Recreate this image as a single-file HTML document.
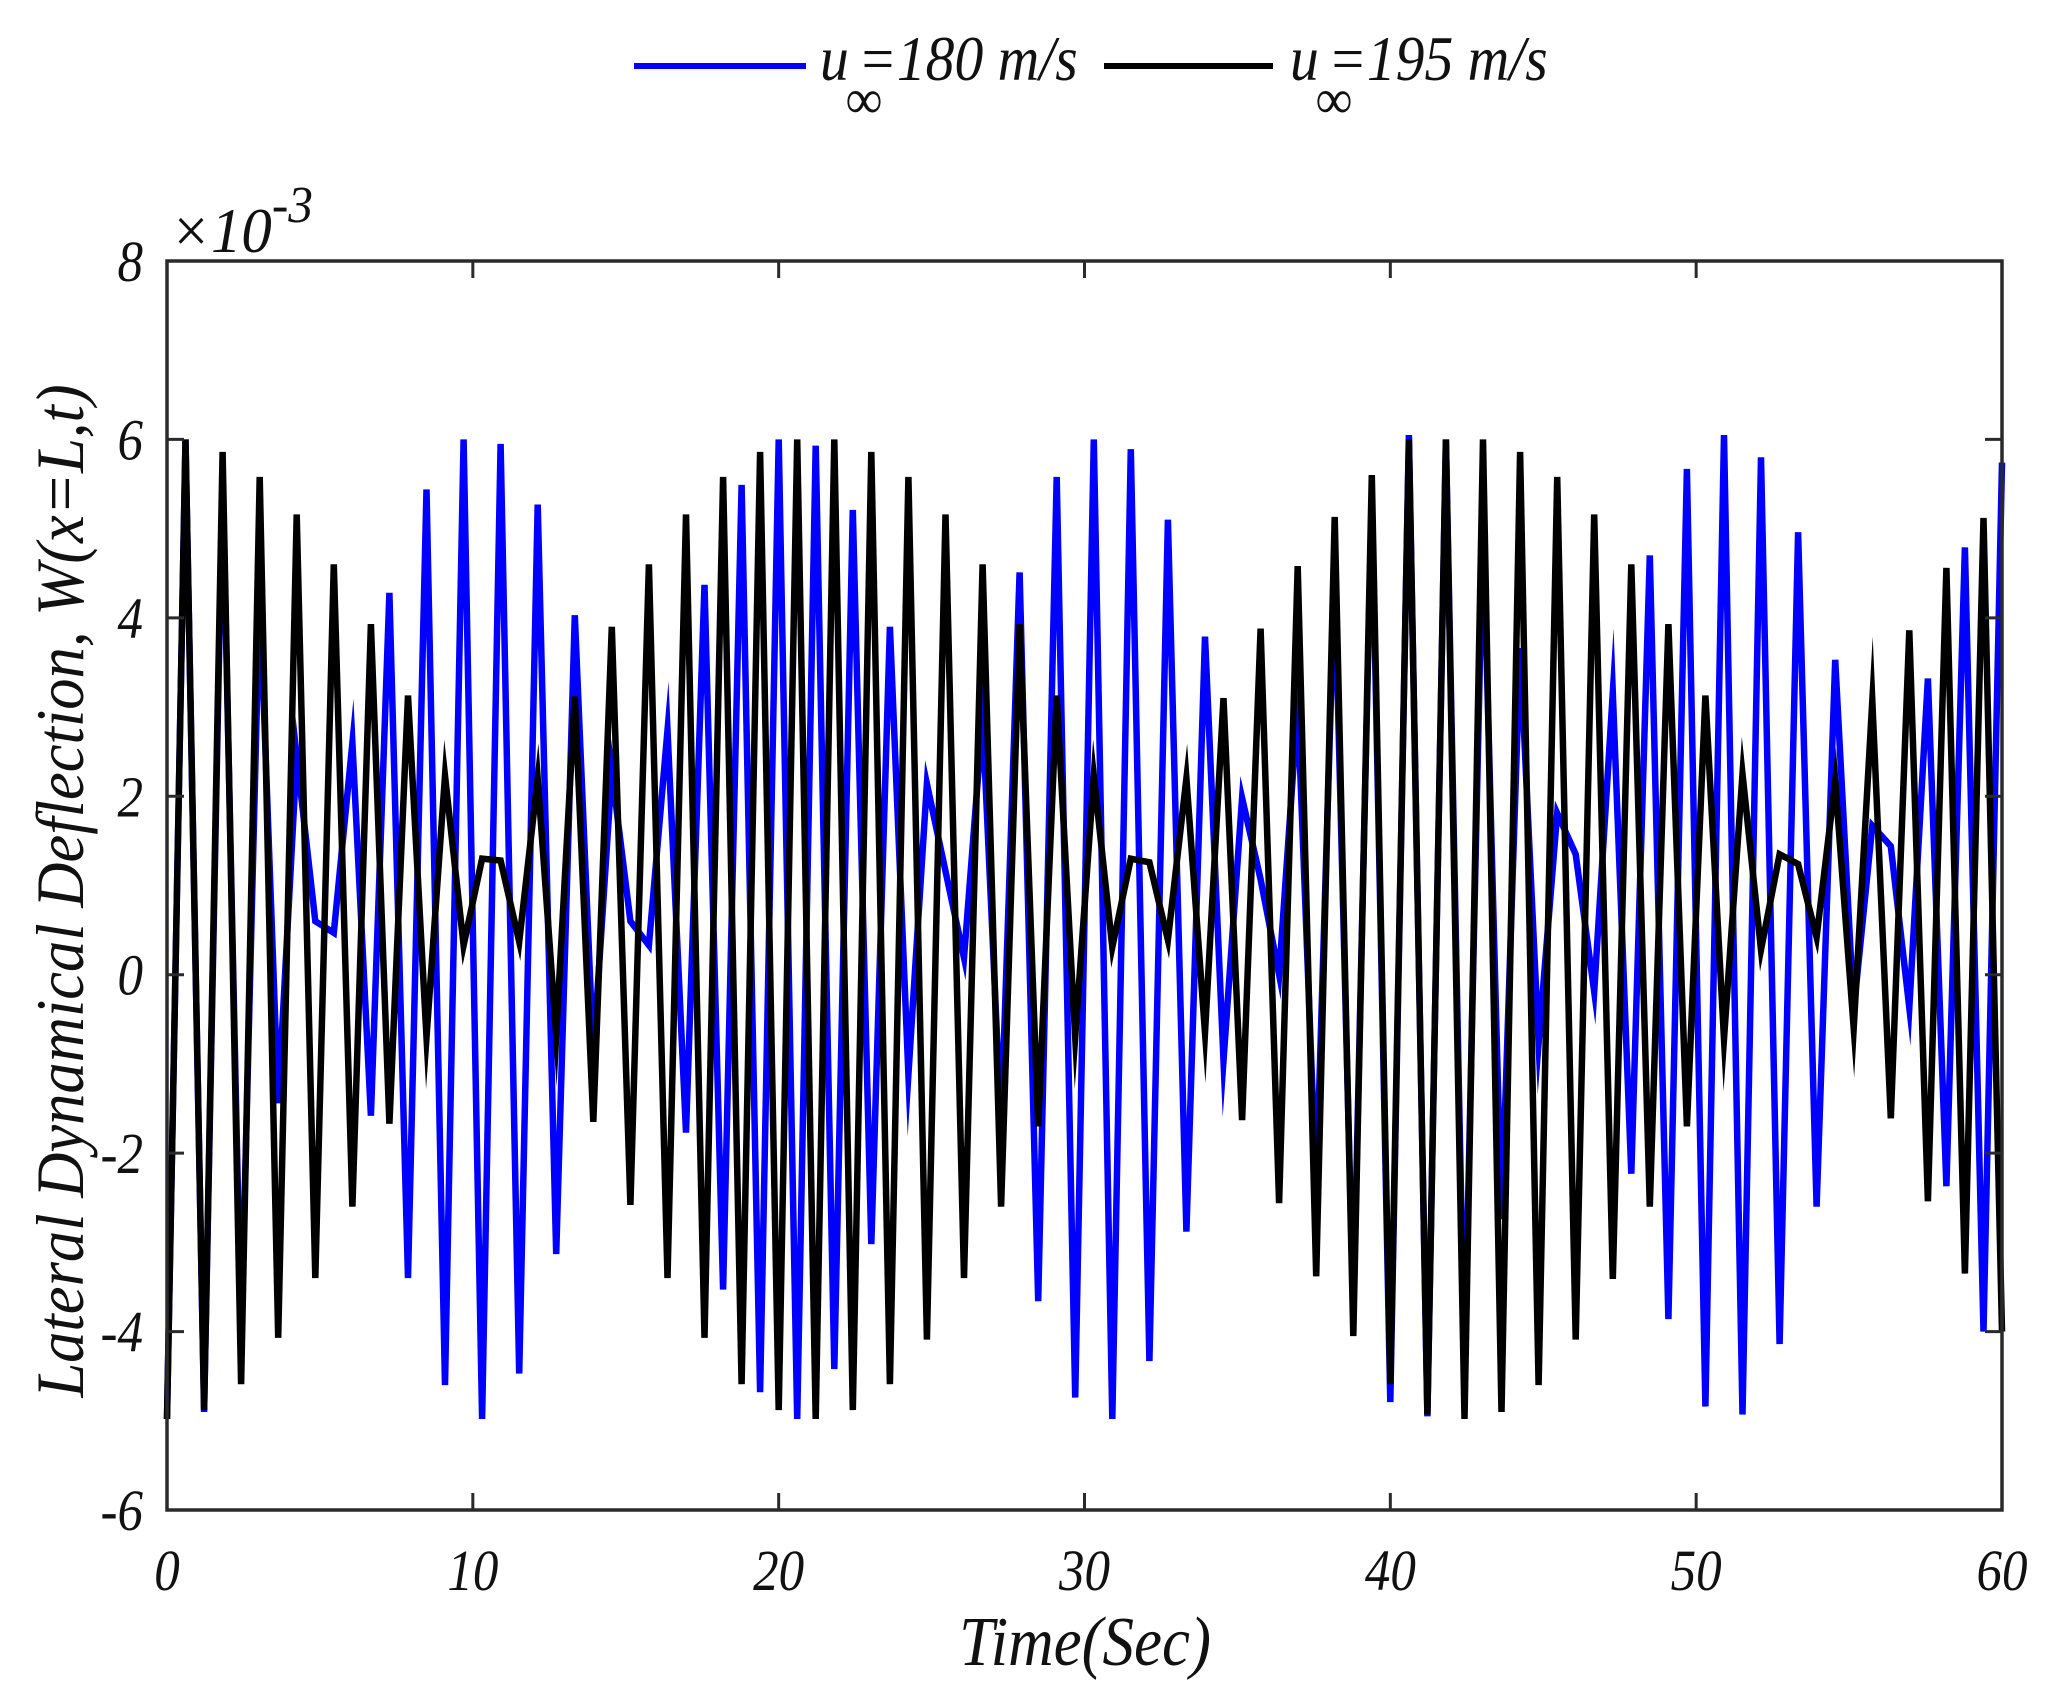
<!DOCTYPE html>
<html><head><meta charset="utf-8"><style>
html,body{margin:0;padding:0;background:#fff}
svg{display:block}
text{font-family:"Liberation Serif",serif;font-style:italic;fill:#111}
</style></head><body>
<svg id="chart" width="2054" height="1702" viewBox="0 0 2054 1702">
<g id="marks"></g>
<g id="frame"></g>
</svg>
<script>
const tickX = [0,10,20,30,40,50,60];
const tickY = [-6,-4,-2,0,2,4,6,8];
const tickXLabels = ["0","10","20","30","40","50","60"];
const tickYLabels = ["-6","-4","-2","0","2","4","6","8"];
const tStart = 0, tEnd = 60, nSamples = 100;
const blue180 = [-4.98,6.0,-4.9,5.6,-4.1,4.3,-1.44,2.45,0.6,0.47,2.6,-1.58,4.28,-3.4,5.44,-4.6,6.0,-4.98,5.95,-4.47,
5.27,-3.13,4.03,-0.9,2.28,0.6,0.33,2.74,-1.77,4.37,-3.53,5.49,-4.68,6.0,-4.98,5.93,-4.42,5.21,-3.02,3.9,
-1.12,2.14,1.16,0.19,2.88,-1.7,4.51,-3.66,5.58,-4.74,6.0,-4.98,5.89,-4.33,5.1,-2.88,3.79,-0.96,1.98,1.07,
0.0,3.02,-2.4,4.5,-3.8,5.4,-4.79,6.05,-4.95,6.0,-4.4,5.1,-2.74,3.66,-0.77,1.81,1.35,-0.19,3.16,-2.23,
4.7,-3.86,5.67,-4.84,6.05,-4.93,5.8,-4.14,4.96,-2.6,3.53,-0.4,1.67,1.44,-0.37,3.32,-2.37,4.79,-4.0,5.74];
const black195 = [-4.98,6.0,-4.88,5.86,-4.59,5.58,-4.07,5.16,-3.4,4.6,-2.6,3.93,-1.67,3.13,-0.7,2.23,0.33,1.3,1.28,0.37,
2.2,-0.68,3.12,-1.65,3.9,-2.58,4.6,-3.4,5.16,-4.07,5.58,-4.59,5.86,-4.88,6.0,-4.98,6.0,-4.88,5.86,-4.59,
5.58,-4.09,5.16,-3.4,4.6,-2.6,3.93,-1.7,3.13,-0.7,2.23,0.31,1.3,1.26,0.39,2.2,-0.65,3.1,-1.63,3.88,
-2.56,4.58,-3.38,5.13,-4.05,5.6,-4.59,6.0,-4.93,6.0,-4.98,6.0,-4.9,5.86,-4.6,5.58,-4.09,5.16,-3.41,4.6,
-2.6,3.93,-1.7,3.13,-0.72,2.25,0.28,1.35,1.24,0.42,2.17,-0.6,3.07,-1.61,3.86,-2.54,4.56,-3.35,5.12,-4.0];

const L=167,R=2002,T=261,B=1510;
const xS = t => L + (t - tStart)/(tEnd - tStart)*(R-L);
const yS = v => B - (v - (-6))/(8 - (-6))*(B-T);
const NS="http://www.w3.org/2000/svg";
const marks=document.getElementById('marks'), frame=document.getElementById('frame');
function mk(tag, attrs, parent){const e=document.createElementNS(NS,tag);for(const k in attrs)e.setAttribute(k,attrs[k]);parent.appendChild(e);return e;}
function timeAt(i){return tStart + i*(tEnd-tStart)/(nSamples-1);}
function drawSeries(vals,color,name){
  const pts=vals.map((v,i)=>xS(timeAt(i)).toFixed(1)+','+yS(v).toFixed(1)).join(' ');
  const p=mk('polyline',{points:pts,fill:'none',stroke:color,'stroke-width':6.5,'stroke-linejoin':'miter','stroke-miterlimit':20},marks);
  
  
}
drawSeries(blue180,'#0000ff','series-180');
drawSeries(black195,'#000000','series-195');

const fr=mk('rect',{x:L,y:T,width:R-L,height:B-T,fill:'none',stroke:'#2a2a2a','stroke-width':3.5},frame);


tickX.forEach((t,i)=>{
  const x=xS(t);
  mk('line',{x1:x,y1:B,x2:x,y2:B-17,stroke:'#2a2a2a','stroke-width':3},frame);
  mk('line',{x1:x,y1:T,x2:x,y2:T+17,stroke:'#2a2a2a','stroke-width':3},frame);
  const tx=mk('text',{x:0,y:0,'font-size':58,'text-anchor':'middle',transform:`translate(${x},1590) scale(0.88,1)`},frame);
  tx.textContent=tickXLabels[i];
  
  
});
tickY.forEach((v,i)=>{
  const y=yS(v);
  mk('line',{x1:L,y1:y,x2:L+17,y2:y,stroke:'#2a2a2a','stroke-width':3},frame);
  mk('line',{x1:R,y1:y,x2:R-17,y2:y,stroke:'#2a2a2a','stroke-width':3},frame);
  const tx=mk('text',{x:0,y:0,'font-size':58,'text-anchor':'end',transform:`translate(143,${y+20}) scale(0.88,1)`},frame);
  tx.textContent=tickYLabels[i];
  
  
});
</script>
<svg style="position:absolute;left:0;top:0" width="2054" height="1702">
  <text x="0" y="0" font-size="64" transform="translate(170,252) scale(0.95,1)">×10<tspan dy="-30" font-size="52">-3</tspan></text>
  <text x="0" y="0" font-size="70" text-anchor="middle" transform="translate(1085,1665) scale(0.9,1)">Time(Sec)</text>
  <text x="0" y="0" font-size="68" text-anchor="middle" transform="translate(83,891) rotate(-90) scale(0.92,1)">Lateral Dynamical Deflection, W(x=L,t)</text>
  <g>
    <line x1="634" y1="66" x2="806" y2="66" stroke="#0000ff" stroke-width="6"/>
    <text x="0" y="0" font-size="64" transform="translate(820,80) scale(0.9,1)">u</text>
    <text x="0" y="0" font-size="56" font-style="normal" transform="translate(846,118) scale(0.9,1)">∞</text>
    <text x="0" y="0" font-size="64" transform="translate(858,80) scale(0.9,1)">=180 m/s</text>
    <line x1="1104" y1="66" x2="1273" y2="66" stroke="#000" stroke-width="6"/>
    <text x="0" y="0" font-size="64" transform="translate(1290,80) scale(0.9,1)">u</text>
    <text x="0" y="0" font-size="56" font-style="normal" transform="translate(1316,118) scale(0.9,1)">∞</text>
    <text x="0" y="0" font-size="64" transform="translate(1328,80) scale(0.9,1)">=195 m/s</text>
  </g>
</svg>
</body></html>
